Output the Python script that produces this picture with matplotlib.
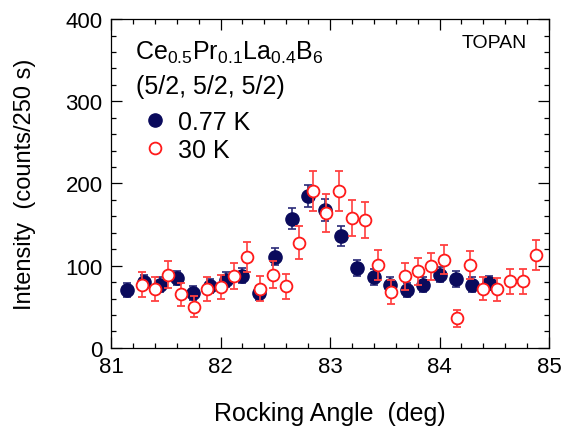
import matplotlib
matplotlib.use('Agg')
import matplotlib.pyplot as plt
from matplotlib.lines import Line2D
from matplotlib.ticker import MultipleLocator

plt.rcParams['font.family'] = ['Liberation Sans', 'DejaVu Sans']
plt.rcParams['mathtext.fontset'] = 'custom'
plt.rcParams['mathtext.rm'] = 'Liberation Sans'
plt.rcParams['mathtext.it'] = 'Liberation Sans'

# 0.77 K scan
angle_low = [81.15, 81.30, 81.45, 81.60, 81.75, 81.90, 82.05, 82.20, 82.35, 82.50,
             82.65, 82.80, 82.95, 83.10, 83.25, 83.40, 83.55, 83.70, 83.85, 84.00,
             84.15, 84.30, 84.45]
counts_low = [70, 80, 77, 85, 67, 75, 83, 88, 67, 111,
              157, 185, 168, 136, 97, 86, 77, 70, 77, 89,
              84, 77, 79]
err_low = [8.5, 9.0, 8.7, 9.0, 8.7, 8.7, 9.3, 9.5, 8.5, 10.7,
           12.6, 13.4, 13.2, 11.8, 9.7, 9.5, 9.1, 8.5, 8.7, 9.1,
           9.5, 8.7, 8.7]

# 30 K scan
angle_high = [81.28, 81.40, 81.52, 81.64, 81.76, 81.88, 82.00, 82.12, 82.24, 82.36,
              82.48, 82.60, 82.72, 82.84, 82.96, 83.08, 83.20, 83.32, 83.44, 83.56,
              83.68, 83.80, 83.92, 84.04, 84.16, 84.28, 84.40, 84.52, 84.64, 84.76,
              84.88]
counts_high = [77, 72, 89, 65, 50, 72, 74, 87, 110, 72,
               89, 75, 128, 191, 164, 191, 158, 156, 101, 68,
               87, 93, 99, 107, 36, 101, 72, 71, 81, 81,
               113]
err_high = [15.6, 14.8, 16.4, 14.0, 12.6, 14.8, 14.8, 15.8, 18.2, 15.2,
            16.4, 15.2, 19.7, 23.9, 22.7, 23.9, 21.9, 21.9, 18.2, 14.8,
            16.2, 16.2, 16.8, 17.6, 10.5, 17.2, 14.2, 14.2, 15.2, 15.2,
            18.2]

navy = '#0a0a5c'
red = '#ff1a1a'

fig = plt.figure(figsize=(5.75, 4.27), dpi=100)
ax = fig.add_axes([0.193, 0.183, 0.762, 0.770])

ax.errorbar(angle_low, counts_low, yerr=err_low, fmt='o', ms=9.5,
            color=navy, mec=navy, mfc=navy, ecolor='#2a2a78',
            elinewidth=1.2, capsize=2.8, capthick=1.2, zorder=3)
ax.errorbar(angle_high, counts_high, yerr=err_high, fmt='o', ms=8.5,
            mfc='white', mec=red, mew=1.3, ecolor='#ff4040',
            elinewidth=1.2, capsize=2.8, capthick=1.2, zorder=4)

ax.set_xlim(81, 85)
ax.set_ylim(0, 400)
ax.xaxis.set_major_locator(MultipleLocator(1))
ax.xaxis.set_minor_locator(MultipleLocator(0.2))
ax.yaxis.set_major_locator(MultipleLocator(100))
ax.yaxis.set_minor_locator(MultipleLocator(20))
ax.tick_params(which='both', direction='in', top=True, right=True, width=0.9)
ax.tick_params(which='major', length=8, labelsize=16)
ax.tick_params(axis='x', which='major', pad=6)
ax.tick_params(axis='y', which='major', pad=6)
ax.tick_params(which='minor', length=3.5)
for s in ax.spines.values():
    s.set_linewidth(0.9)

ax.set_xlabel('Rocking Angle  (deg)', fontsize=18, labelpad=17)
ax.set_ylabel('Intensity  (counts/250 s)', fontsize=17)
ax.yaxis.set_label_coords(-0.171, 0.5)

ax.text(0.055, 0.90, r'Ce$_{0.5}$Pr$_{0.1}$La$_{0.4}$B$_6$', transform=ax.transAxes,
        fontsize=18, va='center', ha='left')
ax.text(0.058, 0.796, '(5/2, 5/2, 5/2)', transform=ax.transAxes,
        fontsize=18, va='center', ha='left')
ax.text(0.95, 0.93, 'TOPAN', transform=ax.transAxes,
        fontsize=14, va='center', ha='right')

handles = [Line2D([], [], ls='none', marker='o', ms=9.5, color=navy),
           Line2D([], [], ls='none', marker='o', ms=8.5, mfc='white', mec=red, mew=1.3)]
ax.legend(handles, ['0.77 K', '30 K'], loc='upper left', bbox_to_anchor=(0.072, 0.724),
          frameon=False, fontsize=18, handletextpad=0.4, labelspacing=0.15,
          handlelength=1.0, borderpad=0, borderaxespad=0)

fig.savefig('out.png', dpi=100)
